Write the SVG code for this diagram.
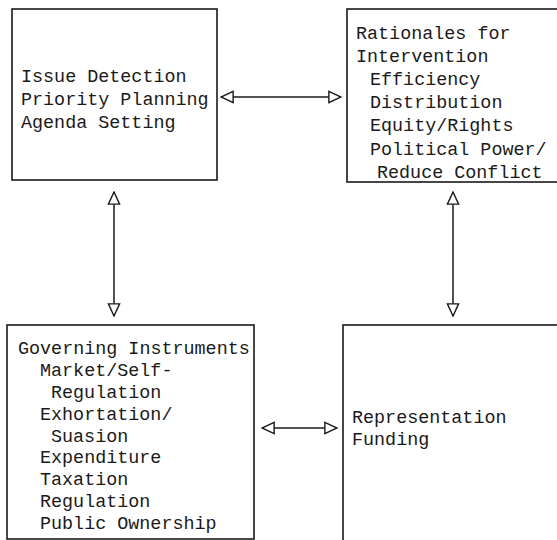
<svg xmlns="http://www.w3.org/2000/svg" width="557" height="540" viewBox="0 0 557 540">
  <style>
    .box { fill: none; stroke: #1a1a1a; stroke-width: 1.6; }
    .lbl { font-family: "Liberation Mono", "Courier New", monospace; font-size: 18.4px; fill: #1a1a1a; }
    .conn { stroke: #1a1a1a; stroke-width: 1.5; fill: none; marker-start: url(#oa); marker-end: url(#oa); }
  </style>
  <defs>
    <marker id="oa" markerUnits="userSpaceOnUse" markerWidth="14" markerHeight="14" refX="13" refY="6.5" viewBox="-1 -0.5 15 14" orient="auto-start-reverse">
      <path d="M0,0.5 L13,6.5 L0,12.5 Z" fill="#ffffff" stroke="#1a1a1a" stroke-width="1.5" stroke-linejoin="miter"/>
    </marker>
  </defs>
  <rect width="557" height="540" fill="#ffffff"/>
  <g id="connectors">
    <line class="conn" x1="221" y1="97" x2="341" y2="97"/>
    <line class="conn" x1="114" y1="192" x2="114" y2="316"/>
    <line class="conn" x1="453" y1="192" x2="453" y2="316"/>
    <line class="conn" x1="262" y1="428" x2="337" y2="428"/>
  </g>
  <g id="node-issue">
    <rect class="box" x="12" y="9" width="205" height="171"/>
    <text class="lbl">
      <tspan x="21" y="82">Issue Detection</tspan>
      <tspan x="21" y="105">Priority Planning</tspan>
      <tspan x="21" y="128">Agenda Setting</tspan>
    </text>
  </g>
  <g id="node-rationales">
    <rect class="box" x="347" y="9" width="215" height="173"/>
    <text class="lbl">
      <tspan x="356" y="39">Rationales for</tspan>
      <tspan x="356" y="62">Intervention</tspan>
      <tspan x="370" y="85">Efficiency</tspan>
      <tspan x="370" y="108">Distribution</tspan>
      <tspan x="370" y="131">Equity/Rights</tspan>
      <tspan x="370" y="155">Political Power/</tspan>
      <tspan x="377" y="178">Reduce Conflict</tspan>
    </text>
  </g>
  <g id="node-instruments">
    <rect class="box" x="7" y="325" width="247" height="214"/>
    <text class="lbl">
      <tspan x="18" y="354">Governing Instruments</tspan>
      <tspan x="40" y="376">Market/Self-</tspan>
      <tspan x="51" y="398">Regulation</tspan>
      <tspan x="40" y="420">Exhortation/</tspan>
      <tspan x="51" y="442">Suasion</tspan>
      <tspan x="40" y="463">Expenditure</tspan>
      <tspan x="40" y="485">Taxation</tspan>
      <tspan x="40" y="507">Regulation</tspan>
      <tspan x="40" y="529">Public Ownership</tspan>
    </text>
  </g>
  <g id="node-representation">
    <rect class="box" x="343" y="325" width="220" height="220"/>
    <text class="lbl">
      <tspan x="352" y="423">Representation</tspan>
      <tspan x="352" y="445">Funding</tspan>
    </text>
  </g>
</svg>
